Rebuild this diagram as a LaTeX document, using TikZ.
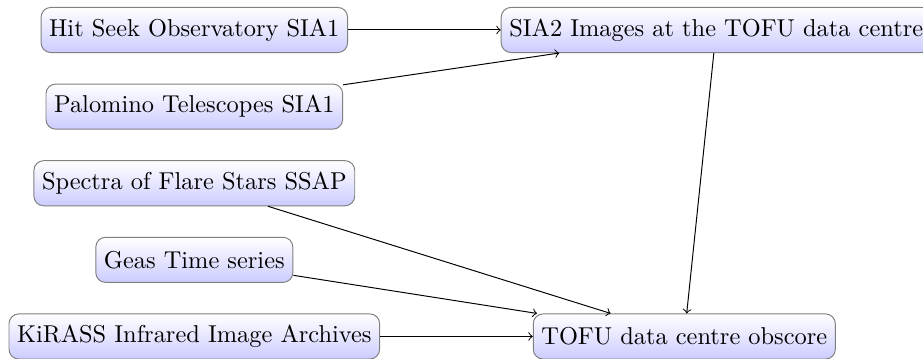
\documentclass[tikz,border=0pt]{standalone}
\usepackage{tikz}
\usetikzlibrary{positioning}
\tikzset{
  archivebox/.style={
    rectangle, rounded corners, draw=black!50,
    top color=white, bottom color=blue!20,
    minimum height=0.65cm
  },
  linkarrow/.style={
    ->, color=black
  },
}

\begin{document}
\begin{tikzpicture}[node distance=0.44cm and 2.2cm]
  \useasboundingbox (0,0) rectangle (13.30,-5.16);
  \node[archivebox] at (2.80,-0.432) (hitseek) {Hit Seek Observatory SIA1};
  \node[archivebox, below=of hitseek] (palomino) {Palomino Telescopes SIA1};
  \node[archivebox, below=of palomino] (flarestars) {Spectra of Flare Stars SSAP};
  \node[archivebox, below=of flarestars] (geas) {Geas Time series};
  \node[archivebox, below=of geas] (kirass) {KiRASS Infrared Image Archives};
  \node[archivebox, right=of hitseek] (sia2) {SIA2 Images at the TOFU data centre};
  \node[archivebox, right=of kirass] (obscore) {TOFU data centre obscore};
  \draw[linkarrow] (hitseek) -- (sia2);
  \draw[linkarrow] (palomino) -- (sia2);
  \draw[linkarrow] (sia2) -- (obscore);
  \draw[linkarrow] (flarestars) -- (obscore);
  \draw[linkarrow] (geas) -- (obscore);
  \draw[linkarrow] (kirass) -- (obscore);
\end{tikzpicture}
\end{document}
